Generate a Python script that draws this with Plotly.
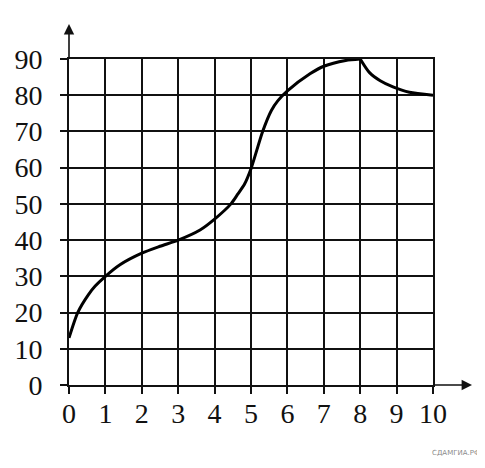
import plotly.graph_objects as go

# Data
rise_x = [0, 0.24, 0.53, 0.72, 1, 1.4, 2, 2.5, 3, 3.6, 4, 4.45, 4.63, 4.82, 5, 5.32, 5.56, 5.74, 6, 6.62, 7, 7.6, 8]
rise_y = [13, 20, 24.9, 27.3, 30, 33.2, 36.4, 38.3, 40, 42.8, 45.8, 50, 52.6, 55.4, 59.7, 70, 75.8, 78.5, 81.2, 85.9, 88, 89.6, 90]
fall_x = [8, 8.25, 8.55, 8.9, 9.35, 10]
fall_y = [90, 86.3, 84, 82.3, 80.8, 80]

x_ticks = list(range(0, 11))
y_ticks = list(range(0, 91, 10))

# page has an 8px body margin, so the figure is sized to fit the window
OFF = 8
W, H = 485 - OFF, 468 - OFF
L, R, T, B = 69 - OFF, 52, 59 - OFF, 83

fig = go.Figure()
for xs, ys in [(rise_x, rise_y), (fall_x, fall_y)]:
    fig.add_trace(go.Scatter(x=xs, y=ys, mode="lines",
                             line=dict(color="black", width=3, shape="spline", smoothing=0.7),
                             hoverinfo="skip", showlegend=False))

tickfont = dict(family="Liberation Serif, Times New Roman, serif", size=28, color="#111")
fig.update_layout(
    width=W, height=H, margin=dict(l=L, r=R, t=T, b=B, autoexpand=False),
    paper_bgcolor="white", plot_bgcolor="white",
    xaxis=dict(range=[0, 10], tickvals=x_ticks, ticktext=[str(v) for v in x_ticks],
               showgrid=True, gridcolor="#111", gridwidth=1.6, zeroline=False,
               showline=True, linecolor="#111", linewidth=1.6, mirror=True,
               ticks="outside", ticklen=7, tickwidth=1.6, tickcolor="#111",
               tickfont=tickfont, ticklabelstandoff=-4, automargin=False, fixedrange=True),
    yaxis=dict(range=[0, 90], tickvals=y_ticks, ticktext=[str(v) for v in y_ticks],
               showgrid=True, gridcolor="#111", gridwidth=1.6, zeroline=False,
               showline=True, linecolor="#111", linewidth=1.6, mirror=True,
               ticks="outside", ticklen=7, tickwidth=1.6, tickcolor="#111",
               tickfont=tickfont, ticklabelstandoff=12, automargin=False, fixedrange=True),
)

pw = W - L - R
ph = H - T - B
# axis arrows (page coords converted to figure paper coords)
fig.add_annotation(xref="paper", yref="paper", x=0, y=1 + (59 - 24) / ph,
                   ax=0, ay=36, showarrow=True, arrowhead=2, arrowsize=1.3,
                   arrowwidth=1.6, arrowcolor="#111", text="")
fig.add_annotation(xref="paper", yref="paper", x=1 + (472 - 433) / pw, y=0,
                   ax=-40, ay=0, showarrow=True, arrowhead=2, arrowsize=1.3,
                   arrowwidth=1.6, arrowcolor="#111", text="")
# watermark
fig.add_annotation(xref="paper", yref="paper", x=1 + (482 - 433) / pw, y=-(453 - 385) / ph,
                   xanchor="right", yanchor="middle", showarrow=False,
                   text="СДАМГИА.РФ", font=dict(family="DejaVu Sans", size=7, color="#8a8a8a"))

fig.write_html("out.html")
